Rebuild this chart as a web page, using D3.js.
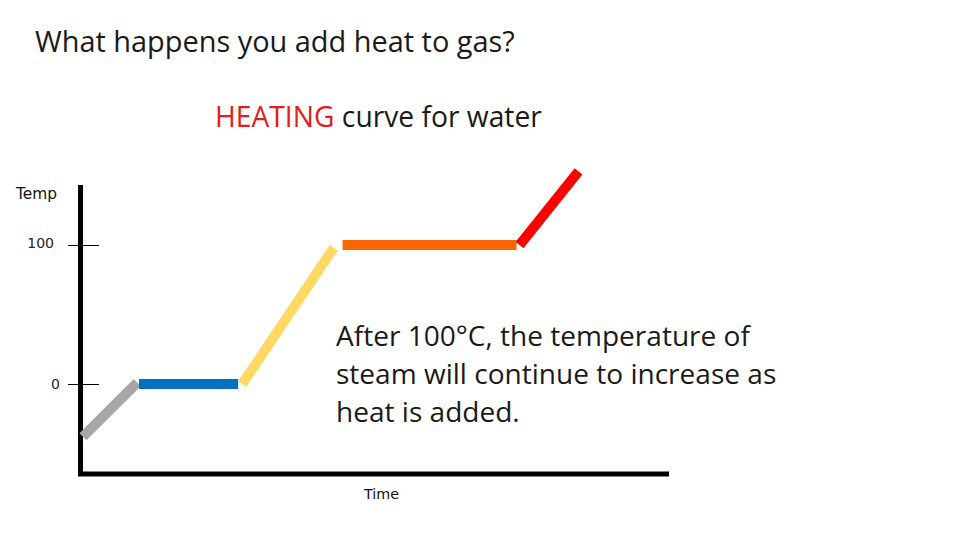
<!DOCTYPE html>
<html><head><meta charset="utf-8">
<script src="https://cdn.jsdelivr.net/npm/d3@7"></script>
<style>body{margin:0;background:#fff}svg{display:block}</style>
</head><body><svg id="c" width="960" height="540"></svg>
<script>
// Data
const phases = ["ice", "melting", "water", "boiling", "steam"];
const phaseColors = ["#a6a6a6", "#0070c0", "#ffd966", "#ff6600", "#ff0000"];
const startTime = [0.05, 1.0, 2.75, 4.45, 7.45];
const endTime = [0.97, 2.68, 4.3, 7.4, 8.45];
const startTemp = [-38, 0, 0, 100, 100];
const endTemp = [1, 0, 98, 100, 153];
const tempTicks = [0, 100];
const annotationLines = ["After 100°C, the temperature of", "steam will continue to increase as", "heat is added."];

const svg = d3.select("#c");
const font = "'Open Sans', 'Noto Sans', sans-serif";
const smallFont = "'DejaVu Sans', Verdana, sans-serif";

// scale a text's font size so that it spans a target width
function fit(sel, target) {
  const fs = +sel.attr("font-size");
  const w = sel.node().getComputedTextLength();
  sel.attr("font-size", fs * target / w);
}

const x = d3.scaleLinear().domain([0, 10]).range([80, 670]);
const y = d3.scaleLinear().domain([0, 100]).range([384, 245]);

// Title
const t = svg.append("text").attr("x", 35).attr("y", 52).attr("font-family", font)
  .attr("font-size", 26).attr("fill", "#1a1a1a").text("What happens you add heat to gas?");
fit(t, 480);
const sub = svg.append("text").attr("x", 215).attr("y", 127).attr("font-family", font)
  .attr("font-size", 26).attr("fill", "#1a1a1a");
sub.append("tspan").attr("fill", "#e31c1c").text("HEATING");
sub.append("tspan").text(" curve for water");
fit(sub, 327);

// Axis lines
svg.append("line").attr("x1", 80.5).attr("x2", 80.5).attr("y1", 185).attr("y2", 476)
  .attr("stroke", "#000").attr("stroke-width", 5);
svg.append("line").attr("x1", 78).attr("x2", 669).attr("y1", 474).attr("y2", 474)
  .attr("stroke", "#000").attr("stroke-width", 5);

// Ticks
const ax = d3.axisLeft(y).tickValues(tempTicks).tickSize(31).tickPadding(14).tickFormat(d3.format("d"));
const g = svg.append("g").attr("transform", "translate(99,0)").call(ax);
g.select(".domain").remove();
g.selectAll(".tick line").attr("stroke", "#000").attr("stroke-width", 1);
g.selectAll(".tick text").attr("font-family", smallFont).attr("font-size", 14).attr("fill", "#222");
g.selectAll(".tick").filter(d => d === 0).select("text").attr("x", -39);
g.selectAll(".tick").filter(d => d === 100).select("text").attr("dy", "0.2em");

// Axis titles
svg.append("text").attr("x", 16).attr("y", 199).attr("font-family", smallFont)
  .attr("font-size", 14).attr("fill", "#111").text("Temp").call(s => fit(s, 41));
svg.append("text").attr("x", 364).attr("y", 499).attr("font-family", smallFont)
  .attr("font-size", 14).attr("fill", "#111").text("Time").call(s => fit(s, 35));

// Segments
svg.append("g").selectAll("line").data(phases).join("line")
  .attr("x1", (d, i) => x(startTime[i])).attr("x2", (d, i) => x(endTime[i]))
  .attr("y1", (d, i) => y(startTemp[i])).attr("y2", (d, i) => y(endTemp[i]))
  .attr("stroke", (d, i) => phaseColors[i]).attr("stroke-width", 10).attr("stroke-linecap", "butt");

// Annotation
const ann = svg.append("text").attr("font-family", font).attr("font-size", 26).attr("fill", "#1a1a1a");
ann.selectAll("tspan").data(annotationLines).join("tspan")
  .attr("x", 336).attr("y", (d, i) => 346 + i * 38).text(d => d);
{
  const first = ann.select("tspan").node();
  const w = first.getComputedTextLength();
  ann.attr("font-size", 26 * 414 / w);
}
</script></body></html>
